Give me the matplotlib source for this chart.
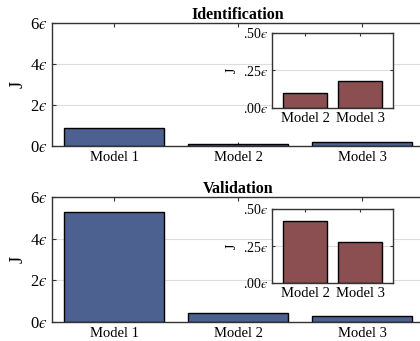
import numpy as np
import matplotlib.pyplot as plt

plt.rcParams['font.family'] = ['Liberation Serif', 'DejaVu Serif']
plt.rcParams['mathtext.fontset'] = 'stix'

models = ['Model 1', 'Model 2', 'Model 3']
ident_vals = [0.88, 0.10, 0.18]
valid_vals = [5.28, 0.42, 0.28]
inset_models = ['Model 2', 'Model 3']
main_ticks = ['0', '2', '4', '6']
inset_ticks = ['.00', '.25', '.50']

main_color = '#4c6190'
inset_color = '#8b4f51'
spine_col = '#333333'
EPS = '$\u03f5$'


def style_axes(ax):
    for s in ax.spines.values():
        s.set_color(spine_col)
        s.set_linewidth(1.0)
    ax.spines['right'].set_visible(False)
    ax.tick_params(direction='in', top=True, length=3, color=spine_col)
    ax.grid(axis='y', color='#dddddd', linewidth=0.8)
    ax.set_axisbelow(True)


def panel(fig, rect, inset_rect, vals, title):
    ax = fig.add_axes(rect)
    x = np.arange(len(models))
    ax.bar(x, vals, width=0.8, color=main_color, edgecolor='black', linewidth=1.0)
    ax.set_xlim(-0.5, 2.5)
    ax.set_ylim(0, 6)
    ax.set_yticks([0, 2, 4, 6])
    ax.set_yticklabels([t + EPS for t in main_ticks], fontsize=12)
    ax.set_xticks(x)
    ax.set_xticklabels(models, fontsize=10.5)
    ax.set_ylabel('J', fontsize=13, labelpad=2)
    ax.set_title(title, fontsize=11.5, fontweight='bold', pad=3)
    style_axes(ax)

    ins = fig.add_axes(inset_rect)
    xi = np.arange(len(inset_models))
    ins.bar(xi, vals[1:], width=0.8, color=inset_color, edgecolor='black', linewidth=1.0)
    ins.set_xlim(-0.6, 1.6)
    ins.set_ylim(0, 0.5)
    ins.set_yticks([0, 0.25, 0.5])
    ins.set_yticklabels([t + EPS for t in inset_ticks], fontsize=10)
    ins.set_xticks(xi)
    ins.set_xticklabels(inset_models, fontsize=10.5)
    ins.set_ylabel('J', fontsize=10, labelpad=3)
    for s in ins.spines.values():
        s.set_color(spine_col)
        s.set_linewidth(1.0)
    ins.tick_params(direction='in', top=True, right=True, length=2.5, color=spine_col, pad=3)
    ins.grid(axis='y', color='#dddddd', linewidth=0.8)
    ins.set_axisbelow(True)


W, H = 420, 341
fig = plt.figure(figsize=(W / 100, H / 100), dpi=100)

panel(fig, [52 / W, 1 - 146 / H, 372 / W, 123 / H],
      [272 / W, 1 - 108 / H, 121 / W, 75 / H], ident_vals, 'Identification')
panel(fig, [52 / W, 1 - 322 / H, 372 / W, 125 / H],
      [272 / W, 1 - 283 / H, 121 / W, 74 / H], valid_vals, 'Validation')

fig.savefig('out.png', dpi=100)
